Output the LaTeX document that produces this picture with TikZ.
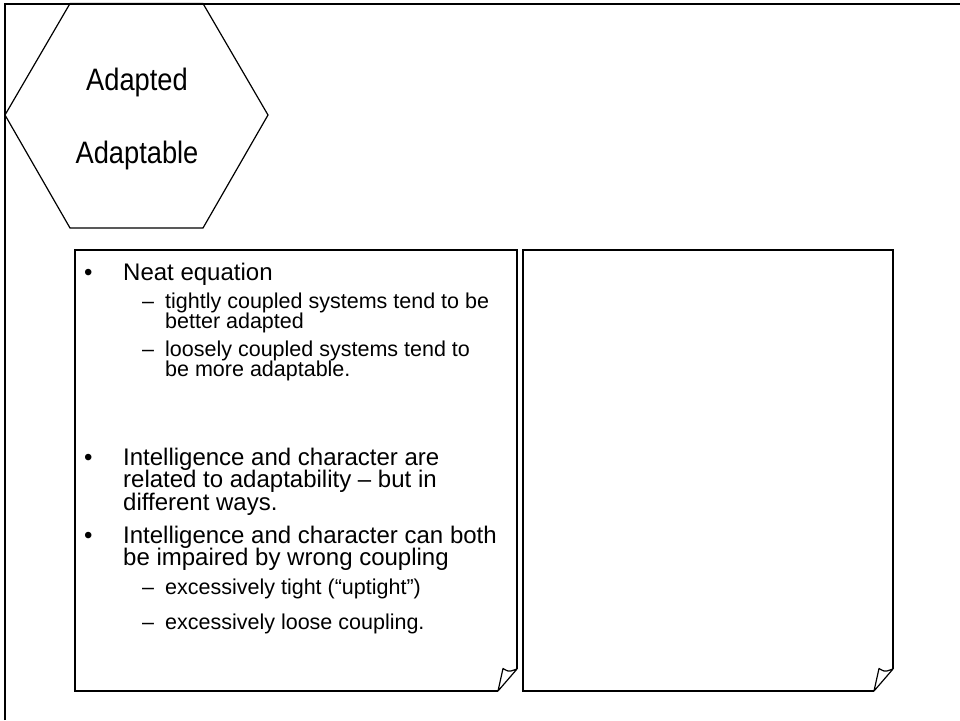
\documentclass[tikz,border=0pt]{standalone}
\usepackage{fontspec}
\setmainfont{Liberation Sans}
\newfontfamily\hexfont[FakeStretch=0.88]{Liberation Sans}
\begin{document}
\begin{tikzpicture}[x=1pt,y=-1pt,
  frameline/.style={line width=2pt},
  notebox/.style={line width=1.8pt, line join=miter},
  foldline/.style={line width=1.2pt, line join=round},
  hexline/.style={line width=1.2pt},
  body/.style={inner sep=0pt, anchor=base west, font=\fontsize{24}{24}\selectfont},
  sub/.style={inner sep=0pt, anchor=base west, font=\fontsize{21.5}{21.5}\selectfont},
  hextext/.style={inner sep=0pt, anchor=base, font=\hexfont\fontsize{31}{31}\selectfont}]
\useasboundingbox (0,0) rectangle (960,720);

% outer frame (only top and left edges fall inside the page)
\draw[frameline] (5,720) -- (5,3.5) -- (962,3.5);

% hexagon
\draw[hexline] (70,3.5) -- (203,3.5) -- (268,115) -- (203,228) -- (70,228) -- (5,115) -- cycle;
\node[hextext] (h1) at (137,90) {Adapted};
\node[hextext] (h2) at (137,163) {Adaptable};

% left note with curled corner
\draw[notebox] (498,691) -- (75,691) -- (75,250) -- (517,250) -- (517,669);
\draw[foldline] (498,691) -- (517,669) -- (511,671) .. controls (507,672) and (505,669) .. (503,668.5) -- cycle;

% right note with curled corner
\draw[notebox] (874,691) -- (523,691) -- (523,250) -- (893,250) -- (893,669);
\draw[foldline] (874,691) -- (893,669) -- (887,671) .. controls (883,672) and (881,669) .. (879,668.5) -- cycle;

% bullet list
\node[body] (k1) at (84,280) {•};
\node[body] (t1) at (123,280) {Neat equation};
\node[sub] (k2) at (142,308) {–};
\node[sub] (t2) at (165,308) {tightly coupled systems tend to be};
\node[sub] (t3) at (165,328.5) {better adapted};
\node[sub] (k3) at (142,356) {–};
\node[sub] (t4) at (165,356) {loosely coupled systems tend to};
\node[sub] (t5) at (165,376.5) {be more adaptable.};
\node[body] (k4) at (84,465) {•};
\node[body] (t6) at (123,465) {Intelligence and character are};
\node[body] (t7) at (123,487.5) {related to adaptability – but in};
\node[body] (t8) at (123,510) {different ways.};
\node[body] (k5) at (84,543) {•};
\node[body] (t9) at (123,543) {Intelligence and character can both};
\node[body] (t10) at (123,565.5) {be impaired by wrong coupling};
\node[sub] (k6) at (142,594) {–};
\node[sub] (t11) at (165,594) {excessively tight (“uptight”)};
\node[sub] (k7) at (142,629) {–};
\node[sub] (t12) at (165,629) {excessively loose coupling.};
\end{tikzpicture}
\end{document}
